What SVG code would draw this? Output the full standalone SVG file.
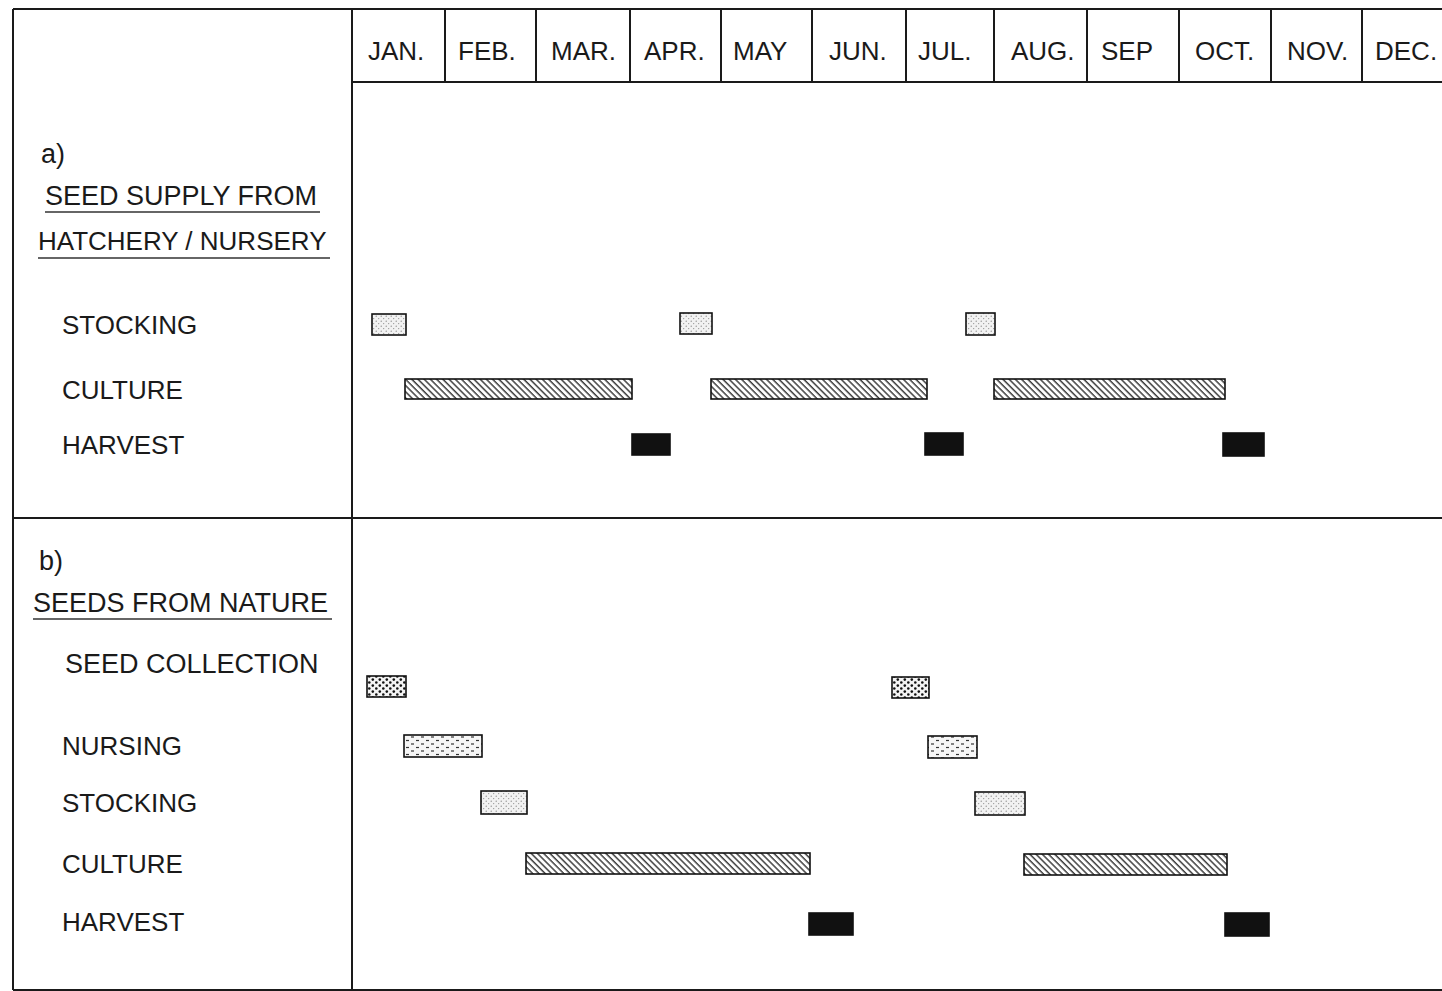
<svg xmlns="http://www.w3.org/2000/svg" width="1442" height="991" viewBox="0 0 1442 991">
<defs>
<pattern id="stip" width="5" height="5" patternUnits="userSpaceOnUse">
<rect width="5" height="5" fill="#f2f2f2"/>
<circle cx="1.2" cy="1.2" r="0.6" fill="#777"/>
<circle cx="3.7" cy="3.6" r="0.6" fill="#888"/>
</pattern>
<pattern id="hatch" width="4.4" height="4.4" patternUnits="userSpaceOnUse" patternTransform="rotate(-45)">
<rect width="4.4" height="4.4" fill="#fff"/>
<line x1="1" y1="0" x2="1" y2="4.4" stroke="#222" stroke-width="1.3"/>
</pattern>
<pattern id="coarse" width="7" height="6" patternUnits="userSpaceOnUse">
<rect width="7" height="6" fill="#f4f4f4"/>
<circle cx="1.8" cy="1.6" r="1.3" fill="#111"/>
<circle cx="5.3" cy="4.5" r="1.3" fill="#111"/>
</pattern>
<pattern id="dash" width="10" height="7" patternUnits="userSpaceOnUse">
<rect width="10" height="7" fill="#f6f6f6"/>
<line x1="1" y1="2" x2="4" y2="2" stroke="#333" stroke-width="1.2"/>
<line x1="6" y1="5.5" x2="9" y2="5.5" stroke="#333" stroke-width="1.2"/>
</pattern>
</defs>
<style>
.frame{stroke:#1a1a1a;stroke-width:2;fill:none}
.t{font-family:"Liberation Sans",Arial,sans-serif;fill:#1a1a1a;font-size:26px}
.big{font-size:27px}
.ul{stroke:#333;stroke-width:1.6}
.bar{stroke:#111;stroke-width:1.6}
.st{fill:url(#stip)}
.cu{fill:url(#hatch)}
.ha{fill:#111}
.sc{fill:url(#coarse)}
.nu{fill:url(#dash)}
</style>
<rect width="1442" height="991" fill="#fff"/>
<g id="grid">
<line class="frame" x1="13" y1="9" x2="1442" y2="9"/>
<line class="frame" x1="13" y1="9" x2="13" y2="990"/>
<line class="frame" x1="13" y1="990" x2="1442" y2="990"/>
<line class="frame" x1="352" y1="9" x2="352" y2="990"/>
<line class="frame" x1="352" y1="82" x2="1442" y2="82"/>
<line class="frame" x1="13" y1="518" x2="1442" y2="518"/>
<line class="frame" x1="445" y1="9" x2="445" y2="82"/>
<line class="frame" x1="536" y1="9" x2="536" y2="82"/>
<line class="frame" x1="630" y1="9" x2="630" y2="82"/>
<line class="frame" x1="721" y1="9" x2="721" y2="82"/>
<line class="frame" x1="812" y1="9" x2="812" y2="82"/>
<line class="frame" x1="906" y1="9" x2="906" y2="82"/>
<line class="frame" x1="994" y1="9" x2="994" y2="82"/>
<line class="frame" x1="1087" y1="9" x2="1087" y2="82"/>
<line class="frame" x1="1179" y1="9" x2="1179" y2="82"/>
<line class="frame" x1="1271" y1="9" x2="1271" y2="82"/>
<line class="frame" x1="1362" y1="9" x2="1362" y2="82"/>
</g>
<g id="months">
<text class="t" x="368" y="60">JAN.</text>
<text class="t" x="458" y="60">FEB.</text>
<text class="t" x="551" y="60">MAR.</text>
<text class="t" x="644" y="60">APR.</text>
<text class="t" x="733" y="60">MAY</text>
<text class="t" x="829" y="60">JUN.</text>
<text class="t" x="918" y="60">JUL.</text>
<text class="t" x="1011" y="60">AUG.</text>
<text class="t" x="1101" y="60">SEP</text>
<text class="t" x="1195" y="60">OCT.</text>
<text class="t" x="1287" y="60">NOV.</text>
<text class="t" x="1375" y="60">DEC.</text>
</g>
<g id="section-a-title">
<text class="t big" x="41" y="163">a)</text>
<text class="t big" x="45" y="205">SEED SUPPLY FROM</text>
<line class="ul" x1="45" y1="212" x2="320" y2="212"/>
<text class="t" x="38" y="250">HATCHERY / NURSERY</text>
<line class="ul" x1="38" y1="258" x2="330" y2="258"/>
</g>
<g id="a-stocking">
<text class="t" x="62" y="334">STOCKING</text>
<rect class="bar st" x="372" y="314" width="34" height="21"/>
<rect class="bar st" x="680" y="313" width="32" height="21"/>
<rect class="bar st" x="966" y="313" width="29" height="22"/>
</g>
<g id="a-culture">
<text class="t" x="62" y="399">CULTURE</text>
<rect class="bar cu" x="405" y="379" width="227" height="20"/>
<rect class="bar cu" x="711" y="379" width="216" height="20"/>
<rect class="bar cu" x="994" y="379" width="231" height="20"/>
</g>
<g id="a-harvest">
<text class="t" x="62" y="454">HARVEST</text>
<rect class="bar ha" x="632" y="434" width="38" height="21"/>
<rect class="bar ha" x="925" y="433" width="38" height="22"/>
<rect class="bar ha" x="1223" y="433" width="41" height="23"/>
</g>
<g id="section-b-title">
<text class="t big" x="39" y="570">b)</text>
<text class="t big" x="33" y="612">SEEDS FROM NATURE</text>
<line class="ul" x1="33" y1="619" x2="332" y2="619"/>
</g>
<g id="b-seed-collection">
<text class="t big" x="65" y="673">SEED COLLECTION</text>
<rect class="bar sc" x="367" y="676" width="39" height="21"/>
<rect class="bar sc" x="892" y="677" width="37" height="21"/>
</g>
<g id="b-nursing">
<text class="t" x="62" y="755">NURSING</text>
<rect class="bar nu" x="404" y="735" width="78" height="22"/>
<rect class="bar nu" x="928" y="736" width="49" height="22"/>
</g>
<g id="b-stocking">
<text class="t" x="62" y="812">STOCKING</text>
<rect class="bar st" x="481" y="791" width="46" height="23"/>
<rect class="bar st" x="975" y="792" width="50" height="23"/>
</g>
<g id="b-culture">
<text class="t" x="62" y="873">CULTURE</text>
<rect class="bar cu" x="526" y="853" width="284" height="21"/>
<rect class="bar cu" x="1024" y="854" width="203" height="21"/>
</g>
<g id="b-harvest">
<text class="t" x="62" y="931">HARVEST</text>
<rect class="bar ha" x="809" y="913" width="44" height="22"/>
<rect class="bar ha" x="1225" y="913" width="44" height="23"/>
</g>
</svg>
